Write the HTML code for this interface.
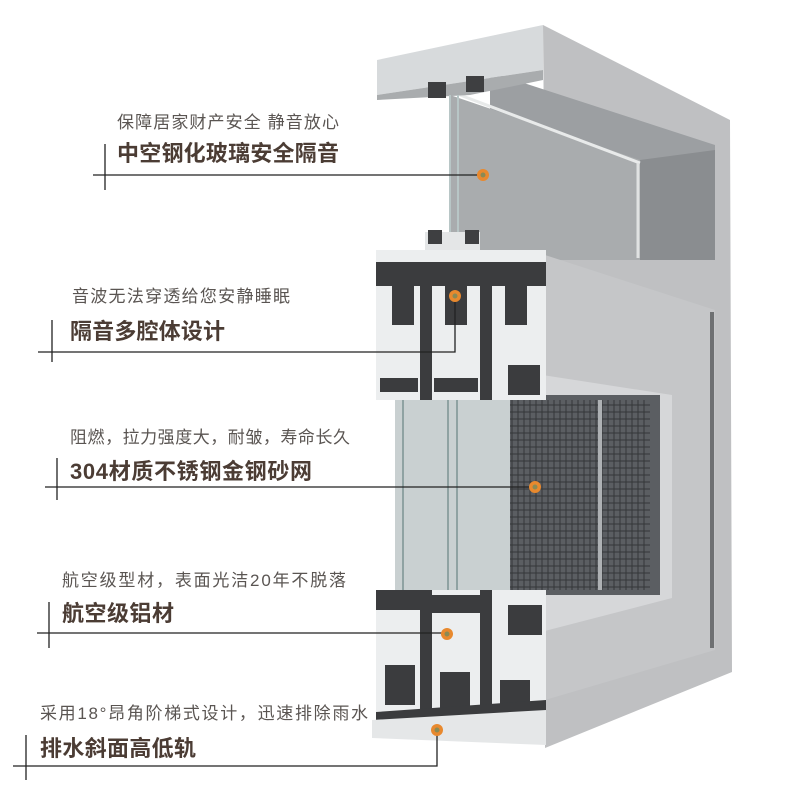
<!DOCTYPE html>
<html><head><meta charset="utf-8"><style>
html,body{margin:0;padding:0;background:#fff;}
svg{display:block}
.s{font-family:"Liberation Sans","Noto Sans CJK SC",sans-serif;font-size:17px;fill:#5a5552;}
.b{font-family:"Liberation Sans","Noto Sans CJK SC",sans-serif;font-size:22px;font-weight:bold;fill:#4b3c34;}
</style></head><body>
<svg width="790" height="802" viewBox="0 0 790 802" xmlns="http://www.w3.org/2000/svg">
<rect width="790" height="802" fill="#fff"/>
<polygon points="543,25 730,120 732,672 545,748 545,255" fill="#bfc0c2"/>
<polygon points="490,72 715,145 715,260 490,260" fill="#9c9fa2"/>
<polygon points="640,160 715,150 715,260 640,260" fill="#8a8d90"/>
<polygon points="450,95 640,160 640,260 450,260" fill="#a9acae"/>
<line x1="460" y1="95" x2="640" y2="163" stroke="#e8eaea" stroke-width="3"/>
<line x1="638" y1="163" x2="638" y2="258" stroke="#e0e2e2" stroke-width="3"/>
<polygon points="377,60 543,25 543,70 377,95" fill="#d7dadc"/>
<polygon points="377,95 543,70 543,80 470,95 377,100" fill="#a9acae"/>
<rect x="428" y="82" width="18" height="16" fill="#3e3f41"/>
<rect x="466" y="76" width="18" height="16" fill="#3e3f41"/>
<line x1="450" y1="95" x2="450" y2="235" stroke="#b8c6c6" stroke-width="2"/>
<line x1="458" y1="95" x2="458" y2="235" stroke="#b8c6c6" stroke-width="2"/>
<polygon points="545,255 715,310 715,650 545,700" fill="#c5c6c8"/>
<rect x="710" y="312" width="4" height="336" fill="#6e7072"/>
<polygon points="510,370 672,395 672,598 510,640" fill="#d6d7d9"/>
<rect x="510" y="395" width="150" height="200" fill="#5b5e62"/>
<g stroke="#2c2e30" stroke-width="1" opacity="0.8">
<path d="M512 400V590M518 400V590M524 400V590M530 400V590M536 400V590M542 400V590M548 400V590M554 400V590M560 400V590M566 400V590M572 400V590M578 400V590M584 400V590M590 400V590M596 400V590M602 400V590M608 400V590M614 400V590M620 400V590M626 400V590M632 400V590M638 400V590M644 400V590"/>
<path d="M510 405H650M510 412H650M510 419H650M510 426H650M510 433H650M510 440H650M510 447H650M510 454H650M510 461H650M510 468H650M510 475H650M510 482H650M510 489H650M510 496H650M510 503H650M510 510H650M510 517H650M510 524H650M510 531H650M510 538H650M510 545H650M510 552H650M510 559H650M510 566H650M510 573H650M510 580H650M510 587H650"/>
</g>
<rect x="598" y="400" width="4" height="190" fill="#aeb1b4"/>
<rect x="395" y="395" width="115" height="200" fill="#c9d0d1"/>
<line x1="403" y1="395" x2="403" y2="595" stroke="#8fa2a2" stroke-width="2"/>
<line x1="448" y1="395" x2="448" y2="595" stroke="#8fa2a2" stroke-width="2"/>
<line x1="457" y1="395" x2="457" y2="595" stroke="#8fa2a2" stroke-width="2"/>
<rect x="376" y="250" width="170" height="150" fill="#eceeef"/>
<rect x="425" y="232" width="55" height="18" fill="#e4e6e7"/>
<rect x="428" y="230" width="14" height="14" fill="#3e3f41"/>
<rect x="465" y="230" width="14" height="14" fill="#3e3f41"/>
<rect x="376" y="262" width="170" height="24" fill="#3b3c3e"/>
<rect x="420" y="262" width="12" height="138" fill="#3b3c3e"/>
<rect x="480" y="262" width="12" height="138" fill="#3b3c3e"/>
<rect x="392" y="285" width="22" height="40" fill="#3b3c3e"/>
<rect x="445" y="285" width="22" height="40" fill="#3b3c3e"/>
<rect x="505" y="285" width="22" height="40" fill="#3b3c3e"/>
<rect x="380" y="378" width="38" height="14" fill="#3b3c3e"/>
<rect x="434" y="378" width="44" height="14" fill="#3b3c3e"/>
<rect x="508" y="365" width="32" height="30" fill="#3b3c3e"/>
<rect x="376" y="590" width="170" height="125" fill="#eceeef"/>
<rect x="376" y="590" width="44" height="20" fill="#3b3c3e"/>
<rect x="432" y="595" width="48" height="18" fill="#3b3c3e"/>
<rect x="420" y="590" width="12" height="130" fill="#3b3c3e"/>
<rect x="480" y="590" width="12" height="130" fill="#3b3c3e"/>
<rect x="508" y="605" width="34" height="30" fill="#3b3c3e"/>
<rect x="385" y="665" width="30" height="40" fill="#3b3c3e"/>
<rect x="440" y="672" width="30" height="40" fill="#3b3c3e"/>
<rect x="500" y="680" width="30" height="40" fill="#3b3c3e"/>
<polygon points="376,712 546,700 546,720 376,722" fill="#3b3c3e"/>
<polygon points="372,720 546,710 546,745 372,738" fill="#e5e7e8"/>
<g stroke="#222" stroke-width="1.3" fill="none">
<path d="M93 175H483M105 144V190"/>
<path d="M38 352H455V296M52 320V362"/>
<path d="M45 487H535M57 458V500"/>
<path d="M37 633H447M49 602V648"/>
<path d="M13 766H437V730M26 735V780"/>
</g>
<g fill="#e8892e">
<circle cx="483" cy="175" r="6"/><circle cx="455" cy="296" r="6"/><circle cx="535" cy="487" r="6"/><circle cx="447" cy="634" r="6"/><circle cx="437" cy="730" r="6"/>
</g>
<g fill="#8a8a55">
<circle cx="483" cy="175" r="2.5"/><circle cx="455" cy="296" r="2.5"/><circle cx="535" cy="487" r="2.5"/><circle cx="447" cy="634" r="2.5"/><circle cx="437" cy="730" r="2.5"/>
</g>
<text class="s" x="117" y="128" textLength="222">保障居家财产安全 静音放心</text>
<text class="b" x="117" y="161" textLength="222">中空钢化玻璃安全隔音</text>
<text class="s" x="72" y="302" textLength="218">音波无法穿透给您安静睡眠</text>
<text class="b" x="70" y="339" textLength="155">隔音多腔体设计</text>
<text class="s" x="70" y="443" textLength="280">阻燃，拉力强度大，耐皱，寿命长久</text>
<text class="b" x="70" y="479" textLength="242">304材质不锈钢金钢砂网</text>
<text class="s" x="62" y="586" textLength="284">航空级型材，表面光洁20年不脱落</text>
<text class="b" x="62" y="621" textLength="112">航空级铝材</text>
<text class="s" x="40" y="719" textLength="328">采用18°昂角阶梯式设计，迅速排除雨水</text>
<text class="b" x="40" y="756" textLength="156">排水斜面高低轨</text>
</svg>
</body></html>
